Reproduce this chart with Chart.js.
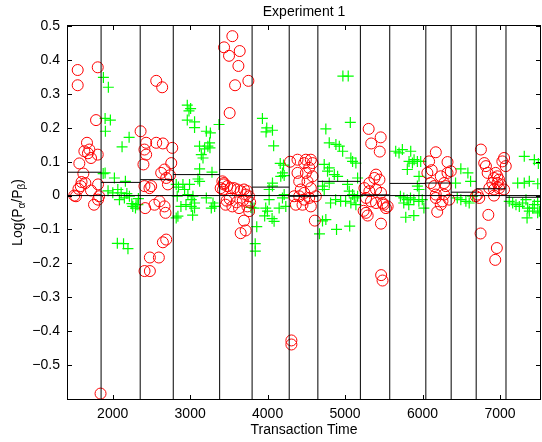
<!DOCTYPE html>
<html>
<head>
<meta charset="utf-8">
<script src="https://cdn.jsdelivr.net/npm/chart.js@4.4.0/dist/chart.umd.min.js"></script>
<style>
html, body { margin: 0; padding: 0; background: #fff; }
</style>
</head>
<body>
<canvas id="dataChart" width="542" height="442"></canvas>
<script>
const titleText = 'Experiment 1';
const xTitle = 'Transaction Time';

const xRange = [1410, 7530];
const yRange = [-0.604, 0.504];
const xTickValues = [2000, 3000, 4000, 5000, 6000, 7000];
const yTickValues = [-0.5, -0.4, -0.3, -0.2, -0.1, 0, 0.1, 0.2, 0.3, 0.4, 0.5];

// red circles
const redTime = [
    1548, 1548, 1807, 1785, 1668, 1634, 1699, 1720, 1807, 1680, 1569, 1621, 1647, 1598, 1587, 1558, 1720, 1811, 1824, 1811, 1759, 1504, 1526, 1843,
    2360, 2562, 2639, 2432, 2410, 2432, 2562, 2648, 2769, 2397, 2756, 2669, 2626, 2691, 2740, 2410, 2497, 2475, 2713, 2419, 2540, 2604, 2669, 2682, 2648, 2691, 2411, 2480, 2480, 2596,
    3545, 3438, 3502, 3640, 3623, 3752, 3580, 3510, 3416, 3433, 3394, 3425, 3436, 3479, 3522, 3566, 3609, 3652, 3695, 3739, 3717, 3761, 3470, 3510, 3600, 3680, 3775, 3458, 3545, 3631, 3739, 3761, 3695, 3652, 3717,
    4290, 4386, 4494, 4558, 4580, 4473, 4537, 4386, 4494, 4408, 4515, 4580, 4429, 4558, 4473, 4343, 4408, 4473, 4537, 4623, 4364, 4451, 4558, 4610, 4307, 4307,
    5305, 5460, 5338, 5448, 5400, 5444, 5379, 5314, 5250, 5314, 5400, 5464, 5271, 5335, 5400, 5487, 5498, 5528, 5550, 5240, 5271, 5292, 5464, 5466, 5484,
    6172, 6085, 6323, 6119, 6063, 6106, 6150, 6236, 6279, 6323, 6365, 6301, 6172, 6279, 6344, 6172, 6258, 6236, 6190,
    6754, 6797, 6819, 6841, 6945, 6967, 6923, 6988, 6902, 6967, 7010, 7053, 7075, 7031, 6863, 6923, 6988, 7053, 6711, 6733, 6923, 6689, 6850, 6750, 6960, 6939
];
const redLog = [
    0.371, 0.326, 0.379, 0.223, 0.156, 0.131, 0.136, 0.111, 0.121, 0.125, 0.095, 0.065, 0.037, 0.040, 0.028, 0.020, 0.015, 0.033, -0.002, -0.012, -0.027, 0, -0.002, -0.585,
    0.190, 0.339, 0.320, 0.156, 0.136, 0.121, 0.156, 0.154, 0.141, 0.092, 0.096, 0.077, 0.067, 0.052, 0.060, 0.028, 0.028, 0.022, 0.033, -0.037, -0.027, -0.017, -0.032, -0.051, -0.138, -0.130, -0.223, -0.223, -0.183, -0.183,
    0.471, 0.438, 0.413, 0.427, 0.383, 0.339, 0.326, 0.244, 0.042, 0.033, 0.022, 0.018, 0.037, 0.028, 0.022, 0.022, 0.018, 0.013, 0.018, 0.013, 0.003, -0.002, -0.015, -0.010, -0.020, -0.015, -0.020, -0.027, -0.032, -0.037, -0.032, -0.046, -0.074, -0.111, -0.103,
    0.100, 0.106, 0.106, 0.106, 0.096, 0.096, 0.082, 0.067, 0.067, 0.042, 0.042, 0.057, 0.018, 0.022, 0.008, -0.002, -0.002, -0.012, -0.007, -0.002, -0.027, -0.027, -0.032, -0.074, -0.428, -0.440,
    0.197, 0.172, 0.154, 0.130, 0.062, 0.047, 0.052, 0.037, 0.022, 0.013, 0.018, 0.008, -0.007, -0.017, -0.022, -0.022, -0.027, -0.037, -0.032, -0.045, -0.051, -0.059, -0.083, -0.235, -0.251,
    0.128, 0.101, 0.099, 0.075, 0.067, 0.037, 0.028, 0.057, 0.037, 0.067, 0.072, 0.028, 0.003, 0.003, -0.012, -0.007, -0.017, -0.027, -0.048,
    0.136, 0.096, 0.087, 0.067, 0.067, 0.057, 0.052, 0.047, 0.037, 0.037, 0.033, 0.111, 0.087, 0.101, 0.022, 0.018, 0.022, 0.018, 0.003, -0.007, 0, -0.002, -0.057, -0.112, -0.155, -0.190
];

// green crosses
const greenTime = [
    1880, 1944, 1902, 1970, 1906, 2212, 2121, 1902, 1877, 2022, 2164, 2066, 2109, 2151, 2216, 2087, 2001, 1940, 2183, 2259, 2302, 2294, 2325, 2247, 2332, 2060, 2140, 2197,
    2963, 3006, 2985, 2963, 3057, 3057, 3209, 3261, 3373, 3251, 3229, 3121, 3186, 3256, 3144, 3166, 3122, 3282, 3101, 3122, 2820, 2907, 2992, 2849, 2928, 2971, 3036, 2833, 3014, 3057, 2881, 2946, 3014, 3057, 3209, 3295, 3316, 3273, 2842, 2820, 3032,
    3785, 3933, 3989, 4063, 3980, 4078, 4163, 4206, 4192, 4214, 4170, 4063, 4020, 4063, 4214, 4192, 4020, 3826, 3976, 3998, 4149, 4235, 3962, 4058, 4084, 3860, 3840, 3841,
    4972, 5041, 5068, 4752, 4796, 4882, 4926, 4969, 5075, 5140, 5097, 4731, 4796, 4774, 4861, 4904, 5162, 4709, 4796, 4731, 5032, 5054, 5097, 5119, 5162, 4813, 4878, 4943, 5007, 5075, 5140, 4709, 4752, 4670, 4890, 5060,
    5654, 5697, 5740, 5848, 5826, 5891, 5934, 5977, 5870, 5804, 5955, 5955, 5934, 5715, 5758, 5802, 5845, 5888, 5953, 5997, 5758, 5823, 6018, 5784, 5888,
    6495, 6586, 6621, 6427, 6449, 6495, 6560, 6603, 6647,
    7314, 7444, 7496, 7229, 7314, 7379, 7488, 7120, 7164, 7207, 7250, 7293, 7336, 7358, 7379, 7423, 7444, 7487, 7509, 7487, 7350
];
const greenLog = [
    0.349, 0.320, 0.228, 0.223, 0.190, 0.172, 0.144, 0.067, 0.065, 0.052, 0.042, 0.018, 0.008, -0.007, -0.002, -0.012, 0.008, 0.014, 0.006, -0.032, -0.027, -0.037, -0.027, -0.024, -0.009, -0.141, -0.142, -0.157,
    0.267, 0.257, 0.250, 0.223, 0.218, 0.201, 0.190, 0.185, 0.210, 0.156, 0.146, 0.146, 0.138, 0.141, 0.121, 0.111, 0.079, 0.069, 0.049, 0.042, 0.033, 0.033, 0.033, 0.025, 0.018, 0.003, -0.002, -0.002, -0.012, -0.022, -0.032, -0.027, -0.032, -0.037, -0.007, -0.022, -0.032, -0.037, -0.061, -0.066, -0.058,
    -0.035, 0.228, 0.200, 0.193, 0.188, 0.147, 0.095, 0.090, 0.067, 0.059, 0.057, 0.037, 0.018, 0.028, 0.003, -0.007, -0.012, -0.037, -0.037, -0.046, -0.037, -0.032, -0.060, -0.068, -0.076, -0.092, -0.142, -0.164,
    0.353, 0.353, 0.216, 0.197, 0.156, 0.151, 0.146, 0.131, 0.111, 0.096, 0.101, 0.092, 0.082, 0.072, 0.062, 0.057, 0.052, 0.028, 0.037, 0.018, 0.033, 0.013, 0.003, -0.007, -0.002, -0.022, -0.012, -0.017, -0.017, -0.022, -0.027, -0.075, -0.071, -0.113, -0.100, -0.090,
    0.131, 0.126, 0.136, 0.131, 0.101, 0.106, 0.101, 0.101, 0.096, 0.077, 0.057, 0.018, 0.028, -0.002, -0.007, -0.012, -0.007, -0.012, -0.017, -0.012, -0.022, -0.027, -0.037, -0.064, -0.059,
    0.079, 0.067, 0.042, 0.037, -0.007, -0.012, -0.017, -0.022, -0.002,
    0.116, 0.106, 0.095, 0.037, 0.037, 0.042, 0.035, -0.017, -0.022, -0.027, -0.032, -0.022, -0.012, -0.037, -0.046, -0.037, -0.027, -0.017, -0.046, -0.051, -0.066
];

// block boundaries and block means
const boundaries = [1410, 1850, 2355, 2782, 3381, 3800, 4279, 4649, 5198, 5577, 6043, 6370, 6693, 7078, 7530];
const blockMeans = [0.069, 0.039, 0.047, 0.062, 0.077, 0.025, -0.002, 0.042, 0.002, 0.036, 0.037, 0.010, 0.020, -0.005];

const lineStyle = { type: 'line', showLine: true, borderColor: '#000', borderWidth: 1, pointRadius: 0, fill: false, tension: 0 };

var datasets = [];

// zero line
datasets.push(Object.assign({ data: [{ x: xRange[0], y: 0 }, { x: xRange[1], y: 0 }] }, lineStyle));

// vertical separators
for (let i = 1; i < boundaries.length - 1; i++) {
    datasets.push(Object.assign({ data: [{ x: boundaries[i], y: yRange[0] }, { x: boundaries[i], y: yRange[1] }] }, lineStyle));
}

// block means
for (let i = 0; i < blockMeans.length; i++) {
    datasets.push(Object.assign({ data: [{ x: boundaries[i], y: blockMeans[i] }, { x: boundaries[i + 1], y: blockMeans[i] }] }, lineStyle));
}

datasets.push({
    type: 'scatter',
    data: redTime.map((t, i) => ({ x: t, y: redLog[i] })),
    pointStyle: 'circle',
    pointRadius: 5.5,
    borderColor: 'rgb(255, 0, 0)',
    backgroundColor: 'rgba(0, 0, 0, 0)',
    borderWidth: 1
});

datasets.push({
    type: 'scatter',
    data: greenTime.map((t, i) => ({ x: t, y: greenLog[i] })),
    pointStyle: 'cross',
    pointRadius: 5.5,
    borderColor: 'rgb(0, 255, 0)',
    backgroundColor: 'rgb(0, 255, 0)',
    borderWidth: 1.2
});

const fontFamily = '"Liberation Sans", Arial, Helvetica, sans-serif';

const matlabFrame = {
    id: 'matlabFrame',
    afterDraw(chart) {
        const { ctx, chartArea: a, scales } = chart;
        const x = scales.x, y = scales.y;
        ctx.save();
        ctx.strokeStyle = '#000';
        ctx.lineWidth = 1;
        ctx.beginPath();
        x.ticks.forEach(t => {
            const px = Math.round(x.getPixelForValue(t.value)) + 0.5;
            ctx.moveTo(px, a.bottom); ctx.lineTo(px, a.bottom - 5);
            ctx.moveTo(px, a.top); ctx.lineTo(px, a.top + 5);
        });
        y.ticks.forEach(t => {
            const py = Math.round(y.getPixelForValue(t.value)) + 0.5;
            ctx.moveTo(a.left, py); ctx.lineTo(a.left + 5, py);
            ctx.moveTo(a.right, py); ctx.lineTo(a.right - 5, py);
        });
        ctx.stroke();
        ctx.strokeRect(a.left + 0.5, a.top + 0.5, a.right - a.left - 1, a.bottom - a.top - 1);

        // title
        ctx.fillStyle = '#000';
        ctx.font = '14px ' + fontFamily;
        ctx.textAlign = 'center';
        ctx.textBaseline = 'alphabetic';
        ctx.fillText(titleText, (a.left + a.right) / 2, 16);

        // y label with subscripts
        const parts = [['Log(P', 14, 0], ['\u03b1', 10, 4], ['/P', 14, 0], ['\u03b2', 10, 4], [')', 14, 0]];
        let total = 0;
        parts.forEach(p => { ctx.font = p[1] + 'px ' + fontFamily; total += ctx.measureText(p[0]).width; });
        ctx.translate(18, (a.top + a.bottom) / 2);
        ctx.rotate(-Math.PI / 2);
        ctx.textAlign = 'left';
        ctx.textBaseline = 'middle';
        let cx = -total / 2;
        parts.forEach(p => {
            ctx.font = p[1] + 'px ' + fontFamily;
            ctx.fillText(p[0], cx, p[2]);
            cx += ctx.measureText(p[0]).width;
        });
        ctx.restore();
    }
};

const ctx = document.getElementById('dataChart');

var myChart = new Chart(ctx, {
    type: 'scatter',
    data: { datasets: datasets },
    options: {
        responsive: false,
        animation: false,
        devicePixelRatio: 1,
        layout: { autoPadding: false, padding: { top: 25, right: 1, left: 0, bottom: 0 } },
        scales: {
            x: {
                type: 'linear',
                min: xRange[0],
                max: xRange[1],
                grid: { display: false, drawTicks: false, tickLength: 0 },
                border: { display: false },
                afterBuildTicks: s => { s.ticks = xTickValues.map(v => ({ value: v })); },
                ticks: {
                    autoSkip: false,
                    maxRotation: 0,
                    padding: 6,
                    color: '#000',
                    font: { family: fontFamily, size: 14 },
                    callback: v => String(v)
                },
                title: {
                    display: true,
                    text: xTitle,
                    color: '#000',
                    font: { family: fontFamily, size: 14 },
                    padding: { top: 0, bottom: 3 }
                },
                afterFit: s => { s.height = 42; s.paddingLeft = 0; s.paddingRight = 0; }
            },
            y: {
                type: 'linear',
                min: yRange[0],
                max: yRange[1],
                grid: { display: false, drawTicks: false, tickLength: 0 },
                border: { display: false },
                afterBuildTicks: s => { s.ticks = yTickValues.map(v => ({ value: v })); },
                ticks: {
                    autoSkip: false,
                    padding: 7,
                    color: '#000',
                    font: { family: fontFamily, size: 14 },
                    callback: v => {
                        if (v === 0) return '0';
                        return (v < 0 ? '\u2212' : '') + Math.abs(v).toFixed(1);
                    }
                },
                afterFit: s => { s.width = 67; s.paddingTop = 0; s.paddingBottom = 0; }
            }
        },
        plugins: {
            legend: { display: false },
            tooltip: { enabled: false }
        }
    },
    plugins: [matlabFrame]
});
</script>
</body>
</html>
